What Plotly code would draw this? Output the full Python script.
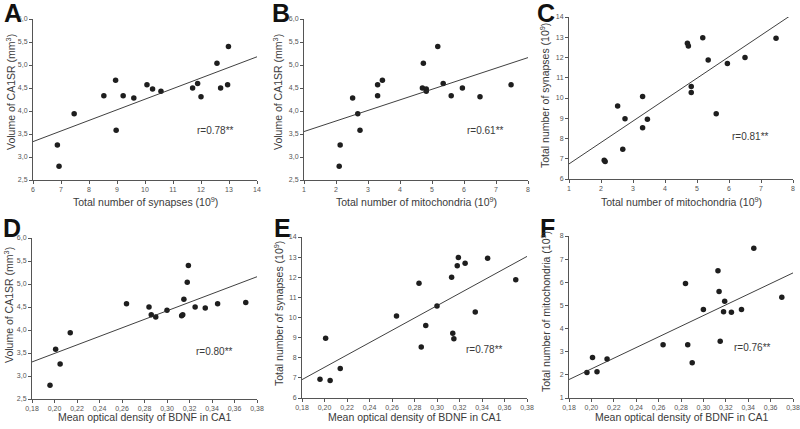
import numpy as np
import plotly.graph_objects as go

synapses = [6.93, 6.87, 7.47, 8.97, 9.60, 8.95, 8.53, 9.22, 10.07, 12.95,
            11.70, 12.70, 12.57, 10.27, 10.57, 12.98, 11.88, 12.00]
mitochondria = [2.10, 2.13, 2.68, 2.75, 2.52, 3.45, 3.30, 5.60, 3.30, 7.47,
                5.95, 4.70, 4.73, 4.82, 4.82, 5.18, 5.35, 6.50]
volume = [2.80, 3.26, 3.94, 3.58, 4.28, 4.67, 4.33, 4.33, 4.57, 4.57,
          4.50, 4.50, 5.04, 4.48, 4.43, 5.40, 4.60, 4.31]
bdnf = [0.196, 0.205, 0.214, 0.201, 0.290, 0.315, 0.286, 0.314, 0.264, 0.345,
        0.284, 0.325, 0.318, 0.334, 0.300, 0.319, 0.370, 0.313]

panel_letters = ["A", "B", "C", "D", "E", "F"]
r_labels = ["r=0.78**", "r=0.61**", "r=0.81**", "r=0.80**", "r=0.78**", "r=0.76**"]

x_titles = ["Total number of synapses (10<sup>9</sup>)",
            "Total number of mitochondria (10<sup>9</sup>)",
            "Total number of mitochondria (10<sup>9</sup>)",
            "Mean optical density of BDNF in CA1",
            "Mean optical density of BDNF in CA1",
            "Mean optical density of BDNF in CA1"]
y_titles = ["Volume of CA1SR (mm<sup>3</sup>)",
            "Volume of CA1SR (mm<sup>3</sup>)",
            "Total number of synapses (10<sup>9</sup>)",
            "Volume of CA1SR (mm<sup>3</sup>)",
            "Total number of synapses (10<sup>9</sup>)",
            "Total number of mitochondria (10<sup>9</sup>)"]

synapse_ticks = [6, 7, 8, 9, 10, 11, 12, 13, 14]
mito_ticks = [1, 2, 3, 4, 5, 6, 7, 8]
volume_ticks = [2.5, 3.0, 3.5, 4.0, 4.5, 5.0, 5.5, 6.0]
bdnf_ticks = [0.18, 0.20, 0.22, 0.24, 0.26, 0.28, 0.30, 0.32, 0.34, 0.36, 0.38]

panels = [
    (synapses, volume, synapse_ticks, volume_ticks, ".0f", ".1f"),
    (mitochondria, volume, mito_ticks, volume_ticks, ".0f", ".1f"),
    (mitochondria, synapses, mito_ticks, synapse_ticks, ".0f", ".0f"),
    (bdnf, volume, bdnf_ticks, volume_ticks, ".2f", ".1f"),
    (bdnf, synapses, bdnf_ticks, synapse_ticks, ".2f", ".0f"),
    (bdnf, mitochondria, bdnf_ticks, mito_ticks, ".2f", ".0f"),
]

W, H = 800, 429
# plot-area boxes in pixels: (left, right, top, bottom)
boxes = [(33, 257, 19, 180), (304, 528, 19, 180), (569, 793, 17, 179),
         (32, 257, 238, 399), (302, 527, 237, 398), (569, 793, 236, 398)]
letter_pos = [(13, 13), (281, 13), (546, 13), (12, 228), (282, 228), (547, 228)]
r_pos = [(0.815, 0.31), (0.81, 0.31), (0.81, 0.26), (0.81, 0.295), (0.81, 0.30), (0.82, 0.31)]
xtitle_y = [201, 201, 201, 417, 417, 417]
ytitle_pos = [(10, 92), (277, 92), (545, 96), (8, 305), (278, 314), (545, 312)]

TXT = "#3a3a3a"
FONT = "Liberation Sans, Arial, sans-serif"

fig = go.Figure()
layout = dict(width=W, height=H, margin=dict(l=0, r=0, t=0, b=0, autoexpand=False),
              paper_bgcolor="white", plot_bgcolor="white", showlegend=False,
              separators=",.", font=dict(family=FONT, color=TXT))
annotations = []

for i, (xs, ys, xt, yt, xf, yf) in enumerate(panels):
    n = i + 1
    xa = "x" if n == 1 else f"x{n}"
    ya = "y" if n == 1 else f"y{n}"
    l, r, t, b = boxes[i]
    x0, x1 = xt[0], xt[-1]
    fig.add_trace(go.Scatter(x=xs, y=ys, mode="markers", xaxis=xa, yaxis=ya,
                             marker=dict(size=5.5, color="#1e1e1e")))
    slope, icpt = np.polyfit(xs, ys, 1)
    lx = np.array([x0, x1])
    fig.add_trace(go.Scatter(x=lx, y=slope * lx + icpt, mode="lines", xaxis=xa, yaxis=ya,
                             line=dict(color="#2a2a2a", width=0.9), hoverinfo="skip"))
    common = dict(showgrid=False, zeroline=False, showline=True, linecolor="#555",
                  linewidth=1, ticks="outside", ticklen=3, tickwidth=1, tickcolor="#555",
                  tickfont=dict(size=7, color="#555"), mirror=False, automargin=False)
    layout["xaxis" + ("" if n == 1 else str(n))] = dict(
        common, domain=[l / W, r / W], range=[x0, x1], anchor=ya,
        tickvals=xt, tickformat=xf)
    layout["yaxis" + ("" if n == 1 else str(n))] = dict(
        common, domain=[1 - b / H, 1 - t / H], range=[yt[0], yt[-1]], anchor=xa,
        tickvals=yt, tickformat=yf)
    annotations.append(dict(text=panel_letters[i], x=letter_pos[i][0] / W,
                            y=1 - letter_pos[i][1] / H, xref="paper", yref="paper",
                            showarrow=False, xanchor="center", yanchor="middle",
                            font=dict(size=25, color="#111", family=FONT, weight="bold")))
    annotations.append(dict(text=r_labels[i], x=r_pos[i][0], y=r_pos[i][1],
                            xref=f"{xa} domain", yref=f"{ya} domain", showarrow=False,
                            xanchor="center", yanchor="middle",
                            font=dict(size=10, color=TXT)))
    annotations.append(dict(text=x_titles[i], x=(l + r) / 2 / W, y=1 - xtitle_y[i] / H,
                            xref="paper", yref="paper", showarrow=False,
                            xanchor="center", yanchor="middle",
                            font=dict(size=10.5, color=TXT)))
    annotations.append(dict(text=y_titles[i], x=ytitle_pos[i][0] / W,
                            y=1 - ytitle_pos[i][1] / H, xref="paper", yref="paper",
                            showarrow=False, xanchor="center", yanchor="middle",
                            textangle=-90, font=dict(size=10.5, color=TXT)))

layout["annotations"] = annotations
fig.update_layout(**layout)
fig.write_html("out.html", config={"displayModeBar": False},
               post_script="document.body.style.margin='0';document.body.style.overflow='hidden';")
